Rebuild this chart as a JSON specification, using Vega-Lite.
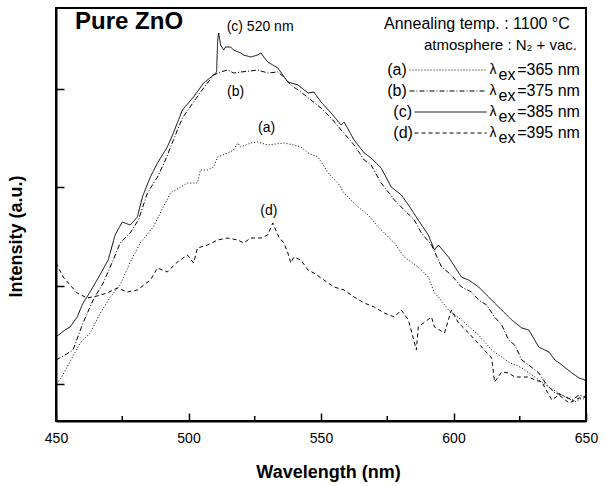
{
"$schema": "https://vega.github.io/schema/vega-lite/v6.json",
"width": 530, "height": 413,
"autosize": {"type": "none"},
"padding": {"left": 56, "top": 8, "right": 21, "bottom": 65},
"background": "white",
"config": {"view": {"stroke": "black", "strokeWidth": 2}, "font": "Liberation Sans"},
"datasets": {
"spectra": [
{"s":"c","wl":450.0,"v":0.84},{"s":"c","wl":453.4,"v":0.91},{"s":"c","wl":455.3,"v":0.94},{"s":"c","wl":458.0,"v":1.04},{"s":"c","wl":460.2,"v":1.18},{"s":"c","wl":461.7,"v":1.24},{"s":"c","wl":465.5,"v":1.41},{"s":"c","wl":469.7,"v":1.61},{"s":"c","wl":472.3,"v":1.86},{"s":"c","wl":475.0,"v":1.99},{"s":"c","wl":478.0,"v":1.96},{"s":"c","wl":480.7,"v":2.04},{"s":"c","wl":482.6,"v":2.24},{"s":"c","wl":485.6,"v":2.44},{"s":"c","wl":488.3,"v":2.58},{"s":"c","wl":491.3,"v":2.71},{"s":"c","wl":492.0,"v":2.74},{"s":"c","wl":494.3,"v":2.88},{"s":"c","wl":497.7,"v":3.11},{"s":"c","wl":501.9,"v":3.24},{"s":"c","wl":505.7,"v":3.38},{"s":"c","wl":509.5,"v":3.46},{"s":"c","wl":510.6,"v":3.49},{"s":"c","wl":511.0,"v":3.81},{"s":"c","wl":511.4,"v":3.88},{"s":"c","wl":512.1,"v":3.76},{"s":"c","wl":513.3,"v":3.71},{"s":"c","wl":514.0,"v":3.74},{"s":"c","wl":515.9,"v":3.74},{"s":"c","wl":517.0,"v":3.71},{"s":"c","wl":519.7,"v":3.68},{"s":"c","wl":520.8,"v":3.66},{"s":"c","wl":523.5,"v":3.64},{"s":"c","wl":526.1,"v":3.66},{"s":"c","wl":527.3,"v":3.68},{"s":"c","wl":529.9,"v":3.59},{"s":"c","wl":533.7,"v":3.53},{"s":"c","wl":537.5,"v":3.39},{"s":"c","wl":541.3,"v":3.36},{"s":"c","wl":545.1,"v":3.28},{"s":"c","wl":547.3,"v":3.29},{"s":"c","wl":550.0,"v":3.19},{"s":"c","wl":553.8,"v":3.08},{"s":"c","wl":557.6,"v":2.96},{"s":"c","wl":558.7,"v":2.99},{"s":"c","wl":562.5,"v":2.81},{"s":"c","wl":566.3,"v":2.68},{"s":"c","wl":568.9,"v":2.63},{"s":"c","wl":572.7,"v":2.53},{"s":"c","wl":576.5,"v":2.34},{"s":"c","wl":580.3,"v":2.26},{"s":"c","wl":583.0,"v":2.16},{"s":"c","wl":586.7,"v":2.01},{"s":"c","wl":590.5,"v":1.86},{"s":"c","wl":592.8,"v":1.71},{"s":"c","wl":594.3,"v":1.76},{"s":"c","wl":598.1,"v":1.64},{"s":"c","wl":603.0,"v":1.44},{"s":"c","wl":605.7,"v":1.41},{"s":"c","wl":609.5,"v":1.34},{"s":"c","wl":615.5,"v":1.18},{"s":"c","wl":618.2,"v":1.11},{"s":"c","wl":622.0,"v":1.01},{"s":"c","wl":625.8,"v":0.93},{"s":"c","wl":628.4,"v":0.91},{"s":"c","wl":632.2,"v":0.74},{"s":"c","wl":636.0,"v":0.69},{"s":"c","wl":638.3,"v":0.61},{"s":"c","wl":640.9,"v":0.56},{"s":"c","wl":644.7,"v":0.48},{"s":"c","wl":647.4,"v":0.43},{"s":"c","wl":649.6,"v":0.41},{"s":"c","wl":650.0,"v":0.38},
{"s":"b","wl":450.0,"v":0.61},{"s":"b","wl":453.4,"v":0.66},{"s":"b","wl":456.4,"v":0.71},{"s":"b","wl":460.2,"v":0.98},{"s":"b","wl":464.0,"v":1.21},{"s":"b","wl":467.8,"v":1.38},{"s":"b","wl":471.6,"v":1.61},{"s":"b","wl":474.2,"v":1.78},{"s":"b","wl":478.0,"v":1.88},{"s":"b","wl":481.1,"v":2.01},{"s":"b","wl":484.5,"v":2.28},{"s":"b","wl":488.3,"v":2.44},{"s":"b","wl":491.3,"v":2.61},{"s":"b","wl":494.3,"v":2.81},{"s":"b","wl":497.7,"v":3.03},{"s":"b","wl":501.9,"v":3.19},{"s":"b","wl":505.7,"v":3.33},{"s":"b","wl":509.5,"v":3.46},{"s":"b","wl":512.1,"v":3.49},{"s":"b","wl":514.8,"v":3.51},{"s":"b","wl":517.0,"v":3.48},{"s":"b","wl":519.7,"v":3.49},{"s":"b","wl":523.5,"v":3.50},{"s":"b","wl":526.1,"v":3.51},{"s":"b","wl":529.9,"v":3.48},{"s":"b","wl":533.7,"v":3.49},{"s":"b","wl":536.0,"v":3.44},{"s":"b","wl":538.6,"v":3.36},{"s":"b","wl":542.4,"v":3.29},{"s":"b","wl":546.2,"v":3.21},{"s":"b","wl":550.0,"v":3.13},{"s":"b","wl":553.8,"v":3.03},{"s":"b","wl":557.6,"v":2.91},{"s":"b","wl":562.5,"v":2.76},{"s":"b","wl":566.3,"v":2.61},{"s":"b","wl":568.9,"v":2.56},{"s":"b","wl":572.7,"v":2.38},{"s":"b","wl":577.7,"v":2.21},{"s":"b","wl":581.4,"v":2.11},{"s":"b","wl":585.2,"v":2.01},{"s":"b","wl":587.9,"v":1.88},{"s":"b","wl":591.7,"v":1.76},{"s":"b","wl":595.5,"v":1.54},{"s":"b","wl":599.2,"v":1.46},{"s":"b","wl":603.0,"v":1.34},{"s":"b","wl":606.8,"v":1.29},{"s":"b","wl":609.5,"v":1.21},{"s":"b","wl":612.5,"v":1.16},{"s":"b","wl":615.5,"v":1.04},{"s":"b","wl":618.2,"v":0.96},{"s":"b","wl":620.8,"v":0.81},{"s":"b","wl":623.1,"v":0.76},{"s":"b","wl":625.8,"v":0.61},{"s":"b","wl":628.4,"v":0.56},{"s":"b","wl":632.2,"v":0.48},{"s":"b","wl":635.2,"v":0.36},{"s":"b","wl":638.3,"v":0.28},{"s":"b","wl":640.9,"v":0.26},{"s":"b","wl":644.7,"v":0.21},{"s":"b","wl":647.4,"v":0.26},{"s":"b","wl":649.6,"v":0.24},{"s":"b","wl":650.0,"v":0.28},
{"s":"a","wl":450.0,"v":0.38},{"s":"a","wl":451.5,"v":0.41},{"s":"a","wl":454.2,"v":0.54},{"s":"a","wl":459.1,"v":0.78},{"s":"a","wl":462.9,"v":0.88},{"s":"a","wl":466.7,"v":1.08},{"s":"a","wl":470.5,"v":1.24},{"s":"a","wl":474.2,"v":1.36},{"s":"a","wl":478.0,"v":1.59},{"s":"a","wl":481.8,"v":1.78},{"s":"a","wl":486.7,"v":1.94},{"s":"a","wl":490.5,"v":2.14},{"s":"a","wl":493.2,"v":2.28},{"s":"a","wl":499.6,"v":2.38},{"s":"a","wl":503.4,"v":2.38},{"s":"a","wl":504.5,"v":2.51},{"s":"a","wl":507.2,"v":2.51},{"s":"a","wl":509.5,"v":2.54},{"s":"a","wl":511.0,"v":2.64},{"s":"a","wl":514.8,"v":2.68},{"s":"a","wl":517.0,"v":2.71},{"s":"a","wl":518.6,"v":2.78},{"s":"a","wl":519.7,"v":2.74},{"s":"a","wl":523.5,"v":2.78},{"s":"a","wl":526.1,"v":2.79},{"s":"a","wl":529.9,"v":2.76},{"s":"a","wl":533.0,"v":2.77},{"s":"a","wl":536.0,"v":2.78},{"s":"a","wl":539.8,"v":2.76},{"s":"a","wl":542.4,"v":2.74},{"s":"a","wl":545.1,"v":2.68},{"s":"a","wl":548.9,"v":2.64},{"s":"a","wl":552.7,"v":2.48},{"s":"a","wl":556.4,"v":2.38},{"s":"a","wl":558.7,"v":2.28},{"s":"a","wl":564.0,"v":2.14},{"s":"a","wl":567.8,"v":2.06},{"s":"a","wl":571.6,"v":1.94},{"s":"a","wl":577.7,"v":1.78},{"s":"a","wl":581.4,"v":1.64},{"s":"a","wl":586.7,"v":1.54},{"s":"a","wl":590.5,"v":1.44},{"s":"a","wl":592.8,"v":1.28},{"s":"a","wl":594.3,"v":1.24},{"s":"a","wl":598.1,"v":1.11},{"s":"a","wl":603.0,"v":1.01},{"s":"a","wl":609.5,"v":0.86},{"s":"a","wl":614.4,"v":0.71},{"s":"a","wl":620.8,"v":0.59},{"s":"a","wl":625.8,"v":0.53},{"s":"a","wl":630.7,"v":0.44},{"s":"a","wl":636.0,"v":0.34},{"s":"a","wl":640.9,"v":0.26},{"s":"a","wl":645.8,"v":0.19},{"s":"a","wl":648.5,"v":0.23},{"s":"a","wl":650.0,"v":0.21},
{"s":"d","wl":450.0,"v":1.58},{"s":"d","wl":452.7,"v":1.44},{"s":"d","wl":455.3,"v":1.36},{"s":"d","wl":458.0,"v":1.28},{"s":"d","wl":461.7,"v":1.23},{"s":"d","wl":465.5,"v":1.25},{"s":"d","wl":469.3,"v":1.28},{"s":"d","wl":473.1,"v":1.33},{"s":"d","wl":476.9,"v":1.29},{"s":"d","wl":480.7,"v":1.31},{"s":"d","wl":485.6,"v":1.41},{"s":"d","wl":488.3,"v":1.53},{"s":"d","wl":492.0,"v":1.49},{"s":"d","wl":495.8,"v":1.59},{"s":"d","wl":499.6,"v":1.66},{"s":"d","wl":501.9,"v":1.58},{"s":"d","wl":503.4,"v":1.73},{"s":"d","wl":507.2,"v":1.76},{"s":"d","wl":511.0,"v":1.81},{"s":"d","wl":514.8,"v":1.83},{"s":"d","wl":518.6,"v":1.81},{"s":"d","wl":520.8,"v":1.78},{"s":"d","wl":523.5,"v":1.83},{"s":"d","wl":527.3,"v":1.83},{"s":"d","wl":529.9,"v":1.86},{"s":"d","wl":531.8,"v":1.98},{"s":"d","wl":534.1,"v":1.84},{"s":"d","wl":536.0,"v":1.78},{"s":"d","wl":537.5,"v":1.68},{"s":"d","wl":538.6,"v":1.58},{"s":"d","wl":539.8,"v":1.64},{"s":"d","wl":542.4,"v":1.61},{"s":"d","wl":545.1,"v":1.51},{"s":"d","wl":547.3,"v":1.48},{"s":"d","wl":551.1,"v":1.41},{"s":"d","wl":554.9,"v":1.34},{"s":"d","wl":558.7,"v":1.31},{"s":"d","wl":562.5,"v":1.24},{"s":"d","wl":566.3,"v":1.18},{"s":"d","wl":570.1,"v":1.14},{"s":"d","wl":573.9,"v":1.08},{"s":"d","wl":577.7,"v":1.04},{"s":"d","wl":580.3,"v":1.11},{"s":"d","wl":583.0,"v":1.01},{"s":"d","wl":586.0,"v":0.71},{"s":"d","wl":586.7,"v":0.94},{"s":"d","wl":591.7,"v":1.04},{"s":"d","wl":592.8,"v":0.94},{"s":"d","wl":596.6,"v":0.88},{"s":"d","wl":599.2,"v":1.11},{"s":"d","wl":601.9,"v":0.98},{"s":"d","wl":605.7,"v":0.88},{"s":"d","wl":610.6,"v":0.74},{"s":"d","wl":614.4,"v":0.63},{"s":"d","wl":615.5,"v":0.39},{"s":"d","wl":618.2,"v":0.49},{"s":"d","wl":620.8,"v":0.48},{"s":"d","wl":623.1,"v":0.44},{"s":"d","wl":628.4,"v":0.44},{"s":"d","wl":630.7,"v":0.41},{"s":"d","wl":633.3,"v":0.39},{"s":"d","wl":637.1,"v":0.21},{"s":"d","wl":639.8,"v":0.26},{"s":"d","wl":643.6,"v":0.18},{"s":"d","wl":647.4,"v":0.23},{"s":"d","wl":650.0,"v":0.24}
],
"minor": [{"t":475},{"t":525},{"t":575},{"t":625}],
"legendLines": [
{"s":"a","x1":583.4,"x2":612.5,"v":3.51},
{"s":"b","x1":583.4,"x2":612.5,"v":3.30},
{"s":"c","x1":585.3,"x2":612.5,"v":3.09},
{"s":"d","x1":585.3,"x2":612.5,"v":2.88}
],
"legendText": [
{"key":"(a)","wl":575.0,"v":3.51,"lam":613.6,"ex":617.0,"exv":3.46,"val":"=365 nm","vx":647.7},
{"key":"(b)","wl":575.0,"v":3.30,"lam":613.6,"ex":617.0,"exv":3.25,"val":"=375 nm","vx":647.7},
{"key":"(c)","wl":577.3,"v":3.09,"lam":613.6,"ex":617.0,"exv":3.04,"val":"=385 nm","vx":647.7},
{"key":"(d)","wl":577.3,"v":2.88,"lam":613.6,"ex":617.0,"exv":2.83,"val":"=395 nm","vx":647.7}
],
"header1": [{"text":"Annealing temp. : 1100 °C","wl":643.9,"v":3.97}],
"header2": [{"text":"atmosphere : N₂ + vac.","wl":646.6,"v":3.76}],
"noteLeft": [{"text":"(c)  520 nm","wl":514.4,"v":3.94}],
"notes": [
{"text":"(b)","wl":517.8,"v":3.29},
{"text":"(a)","wl":529.5,"v":2.93},
{"text":"(d)","wl":530.3,"v":2.10}
],
"title": [{"text":"Pure ZnO","wl":457.2,"v":3.99}]
},
"layer": [
{
"data": {"name": "spectra"},
"mark": {"type": "line", "strokeWidth": 1, "color": "black", "interpolate": "linear"},
"encoding": {
"x": {"field": "wl", "type": "quantitative",
"scale": {"domain": [450, 650], "nice": false, "zero": false},
"axis": {"values": [450, 500, 550, 600, 650], "title": "Wavelength (nm)", "titleFont": "Liberation Sans", "titleFontSize": 18, "titleFontWeight": "bold", "titleColor": "black", "titleBaseline": "middle", "titleY": 51, "titleX": 272,
"labelFont": "Liberation Sans", "labelFontSize": 14, "labelColor": "black", "labelFlush": false, "labelPadding": 18,
"tickColor": "black", "tickSize": -8, "tickWidth": 1.5, "domainColor": "black", "domainWidth": 2, "grid": false}},
"y": {"field": "v", "type": "quantitative",
"scale": {"domain": [0, 4.13], "nice": false, "zero": false},
"axis": {"values": [0.37, 1.35, 2.34, 3.32], "labels": false, "title": "Intensity (a.u.)", "titleFont": "Liberation Sans", "titleFontSize": 18, "titleFontWeight": "bold", "titleColor": "black", "titleBaseline": "middle", "titleAngle": 270, "titleX": -40, "titleY": 228,
"tickColor": "black", "tickSize": -8, "tickWidth": 1.5, "domainColor": "black", "domainWidth": 2, "grid": false}},
"detail": {"field": "s"},
"strokeDash": {"field": "s", "type": "nominal", "scale": {"domain": ["a", "b", "c", "d"], "range": [[1, 2], [5, 2, 1, 2], [1, 0], [4, 3]]}, "legend": null}
}
},
{
"data": {"name": "minor"},
"mark": {"type": "rule", "color": "black", "strokeWidth": 1.5},
"encoding": {"x": {"field": "t", "type": "quantitative"}, "y": {"datum": 0}, "y2": {"datum": 0.05}}
},
{
"data": {"name": "legendLines"},
"mark": {"type": "rule", "color": "black", "strokeWidth": 1},
"encoding": {"x": {"field": "x1", "type": "quantitative"}, "x2": {"field": "x2"}, "y": {"field": "v", "type": "quantitative"},
"strokeDash": {"field": "s", "type": "nominal", "legend": null}}
},
{
"data": {"name": "legendText"},
"mark": {"type": "text", "align": "left", "baseline": "middle", "fontSize": 16, "font": "Liberation Sans", "color": "black"},
"encoding": {"x": {"field": "wl", "type": "quantitative"}, "y": {"field": "v", "type": "quantitative"}, "text": {"field": "key"}}
},
{
"data": {"name": "legendText"},
"mark": {"type": "text", "align": "left", "baseline": "middle", "fontSize": 14, "font": "Liberation Sans", "color": "black"},
"encoding": {"x": {"field": "lam", "type": "quantitative"}, "y": {"field": "v", "type": "quantitative"}, "text": {"value": "λ"}}
},
{
"data": {"name": "legendText"},
"mark": {"type": "text", "align": "left", "baseline": "middle", "fontSize": 16, "font": "Liberation Sans", "color": "black"},
"encoding": {"x": {"field": "ex", "type": "quantitative"}, "y": {"field": "exv", "type": "quantitative"}, "text": {"value": "ex"}}
},
{
"data": {"name": "legendText"},
"mark": {"type": "text", "align": "right", "baseline": "middle", "fontSize": 16, "font": "Liberation Sans", "color": "black"},
"encoding": {"x": {"field": "vx", "type": "quantitative"}, "y": {"field": "v", "type": "quantitative"}, "text": {"field": "val"}}
},
{
"data": {"name": "header1"},
"mark": {"type": "text", "align": "right", "baseline": "middle", "fontSize": 16, "font": "Liberation Sans", "color": "black"},
"encoding": {"x": {"field": "wl", "type": "quantitative"}, "y": {"field": "v", "type": "quantitative"}, "text": {"field": "text"}}
},
{
"data": {"name": "header2"},
"mark": {"type": "text", "align": "right", "baseline": "middle", "fontSize": 15, "font": "Liberation Sans", "color": "black"},
"encoding": {"x": {"field": "wl", "type": "quantitative"}, "y": {"field": "v", "type": "quantitative"}, "text": {"field": "text"}}
},
{
"data": {"name": "noteLeft"},
"mark": {"type": "text", "align": "left", "baseline": "middle", "fontSize": 14, "font": "Liberation Sans", "color": "black"},
"encoding": {"x": {"field": "wl", "type": "quantitative"}, "y": {"field": "v", "type": "quantitative"}, "text": {"field": "text"}}
},
{
"data": {"name": "notes"},
"mark": {"type": "text", "align": "center", "baseline": "middle", "fontSize": 14, "font": "Liberation Sans", "color": "black"},
"encoding": {"x": {"field": "wl", "type": "quantitative"}, "y": {"field": "v", "type": "quantitative"}, "text": {"field": "text"}}
},
{
"data": {"name": "title"},
"mark": {"type": "text", "align": "left", "baseline": "middle", "fontSize": 24, "fontWeight": "bold", "font": "Liberation Sans", "color": "black"},
"encoding": {"x": {"field": "wl", "type": "quantitative"}, "y": {"field": "v", "type": "quantitative"}, "text": {"field": "text"}}
}
]
}
